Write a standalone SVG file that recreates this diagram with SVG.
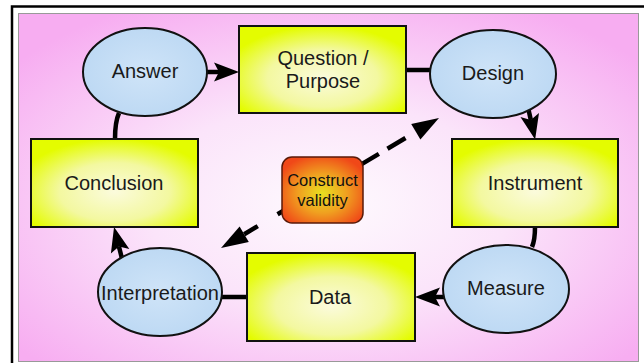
<svg xmlns="http://www.w3.org/2000/svg" width="644" height="363" viewBox="0 0 644 363">
<defs>
<radialGradient id="bg" cx="50%" cy="55%" r="65%">
<stop offset="0" stop-color="#fefafe"/>
<stop offset="0.45" stop-color="#fbe4fa"/>
<stop offset="1" stop-color="#f7adf1"/>
</radialGradient>
<radialGradient id="yel" cx="50%" cy="60%" r="60%">
<stop offset="0" stop-color="#fbfbdc"/>
<stop offset="0.55" stop-color="#f3f8a0"/>
<stop offset="1" stop-color="#e4fc00"/>
</radialGradient>
<radialGradient id="blu" cx="50%" cy="50%" r="55%">
<stop offset="0" stop-color="#cfe4f8"/>
<stop offset="1" stop-color="#bcd8f3"/>
</radialGradient>
<radialGradient id="org" cx="50%" cy="55%" r="60%">
<stop offset="0" stop-color="#e8e020"/>
<stop offset="0.5" stop-color="#f0a020"/>
<stop offset="1" stop-color="#f04818"/>
</radialGradient>
<marker id="ah" markerUnits="userSpaceOnUse" markerWidth="30" markerHeight="24" refX="5" refY="0" orient="auto" viewBox="0 -12 30 24" overflow="visible">
<path d="M0,-9.5 L25,0 L0,9.5 L5,0 Z" fill="#000"/>
</marker>
<marker id="tri" markerUnits="userSpaceOnUse" markerWidth="30" markerHeight="24" refX="0" refY="0" orient="auto-start-reverse" viewBox="0 -12 30 24" overflow="visible">
<path d="M0,-9 L27,0 L0,9 Z" fill="#000"/>
</marker>
</defs>
<style>
.box{fill:url(#yel);stroke:#111;stroke-width:2}
.ell{fill:url(#blu);stroke:#111;stroke-width:2}
.lbl{font-family:"Liberation Sans",Arial,sans-serif;font-size:20px;fill:#1a1a1a;text-anchor:middle}
.sm{font-family:"Liberation Sans",Arial,sans-serif;font-size:16.5px;fill:#111;text-anchor:middle}
.con{fill:none;stroke:#000;stroke-width:4.5}
</style>
<rect x="0" y="0" width="644" height="363" fill="#fff"/>
<rect x="12" y="6.5" width="700" height="400" fill="#fff" stroke="#000" stroke-width="2.5"/>
<rect x="18.5" y="13.5" width="620" height="348" fill="url(#bg)" stroke="#999" stroke-width="1"/>

<g id="connectors">
<path class="con" d="M206,72 L219,72" marker-end="url(#ah)"/>
<path class="con" d="M406,70 L431,70"/>
<path class="con" d="M528.6,110 L530.8,119.9" marker-end="url(#ah)"/>
<path class="con" d="M535,227 Q535,240 532,247"/>
<path class="con" d="M444,297 L435,297" marker-end="url(#ah)"/>
<path class="con" d="M247,297 L221,297"/>
<path class="con" d="M121.9,258.4 L118.9,246.4" marker-end="url(#ah)"/>
<path class="con" d="M115,139 Q115,122 119,113"/>
<path class="con" d="M415.8,131.8 L244.2,234.2" stroke-width="5" stroke-dasharray="0 12 21 10 21 10 21 10 21 10 25 23 40" marker-start="url(#tri)" marker-end="url(#tri)"/>
</g>

<g id="answer">
<ellipse class="ell" cx="145" cy="72" rx="62" ry="44"/>
<text class="lbl" x="145" y="78">Answer</text>
</g>
<g id="question">
<rect class="box" x="239" y="26" width="167" height="87"/>
<text class="lbl" x="323" y="65">Question /</text>
<text class="lbl" x="323" y="88">Purpose</text>
</g>
<g id="design">
<ellipse class="ell" cx="493" cy="74" rx="63" ry="44"/>
<text class="lbl" x="493" y="80">Design</text>
</g>
<g id="instrument">
<rect class="box" x="452" y="139" width="166" height="88"/>
<text class="lbl" x="535" y="190">Instrument</text>
</g>
<g id="measure">
<ellipse class="ell" cx="506" cy="289" rx="63" ry="44"/>
<text class="lbl" x="506" y="295">Measure</text>
</g>
<g id="data">
<rect class="box" x="247" y="253" width="168" height="88"/>
<text class="lbl" x="330" y="304">Data</text>
</g>
<g id="interpretation">
<ellipse class="ell" cx="160" cy="292" rx="62" ry="44"/>
<text class="lbl" x="160" y="300">Interpretation</text>
</g>
<g id="conclusion">
<rect class="box" x="31" y="139" width="167" height="88"/>
<text class="lbl" x="114" y="190">Conclusion</text>
</g>
<g id="construct">
<rect x="282" y="157" width="81" height="66" rx="10" fill="url(#org)" stroke="#5a1a08" stroke-width="1.5"/>
<text class="sm" x="322.5" y="186">Construct</text>
<text class="sm" x="322.5" y="206">validity</text>
</g>
</svg>
